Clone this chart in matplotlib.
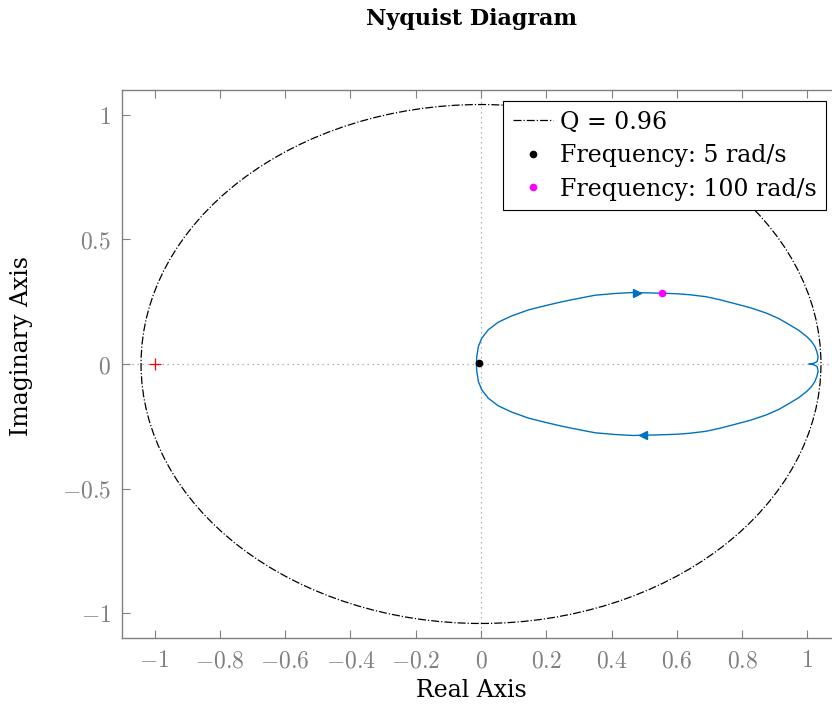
import numpy as np
import matplotlib
matplotlib.use("Agg")
import matplotlib.pyplot as plt
from matplotlib.patches import Circle
from matplotlib.lines import Line2D

plt.rcParams['font.family'] = 'DejaVu Serif'
plt.rcParams['mathtext.fontset'] = 'cm'

# Nyquist curve, upper branch; lower branch is its conjugate
re_upper = [1.006, 1.020, 1.030, 1.033, 1.029, 1.023, 1.013, 0.998, 0.975, 0.946,
            0.913, 0.875, 0.825, 0.773, 0.732, 0.690, 0.640, 0.600, 0.556, 0.466,
            0.410, 0.349, 0.278, 0.242, 0.206, 0.175, 0.145, 0.094, 0.053, 0.022,
            0.002, -0.008, -0.013, -0.014]
im_upper = [0.000, 0.003, 0.010, 0.029, 0.050, 0.070, 0.090, 0.110, 0.134, 0.157,
            0.182, 0.204, 0.226, 0.244, 0.258, 0.270, 0.278, 0.282, 0.284, 0.287,
            0.283, 0.276, 0.258, 0.248, 0.237, 0.227, 0.217, 0.193, 0.168, 0.137,
            0.103, 0.070, 0.029, 0.000]

Q = 0.96
freq_5 = (-0.005, 0.006)
freq_100 = (0.556, 0.284)
arrow_up = (0.477, 0.287)
arrow_down = (0.497, -0.287)
critical = (-1, 0)

xticks = [-1, -0.8, -0.6, -0.4, -0.2, 0, 0.2, 0.4, 0.6, 0.8, 1]
yticks = [-1, -0.5, 0, 0.5, 1]

fig = plt.figure(figsize=(8.32, 7.07), dpi=100)
ax = fig.add_axes([122 / 832, 69 / 707, 718 / 832, 548 / 707])

blue = '#0072BD'
grey = '#808080'

ax.axhline(0, color='#a0a0a0', linestyle=(0, (1, 3)), linewidth=0.9, zorder=1)
ax.axvline(0, color='#a0a0a0', linestyle=(0, (1, 3)), linewidth=0.9, zorder=1)

circ = Circle((0, 0), 1 / Q, fill=False, edgecolor='black', linestyle='-.', linewidth=0.9)
ax.add_patch(circ)

re = np.array(re_upper)
im = np.array(im_upper)
ax.plot(re, im, color=blue, linewidth=1.0)
ax.plot(re, -im, color=blue, linewidth=1.0)
ax.plot(*arrow_up, marker='>', color=blue, markersize=6, linestyle='none')
ax.plot(*arrow_down, marker='<', color=blue, markersize=6, linestyle='none')

ax.plot(*critical, marker='+', color='red', markersize=8, markeredgewidth=0.9)
ax.plot(*freq_5, 'o', color='black', markersize=4.5)
ax.plot(*freq_100, 'o', color='magenta', markersize=4.5)

ax.set_xlim(-1.1, 1.1)
ax.set_ylim(-1.1, 1.1)
ax.set_xticks(xticks)
ax.set_yticks(yticks)
ax.set_xticklabels([r'$%g$' % t for t in xticks])
ax.set_yticklabels([r'$%g$' % t for t in yticks])
ax.tick_params(direction='in', length=6, width=0.8, colors=grey, labelsize=17,
               top=True, right=True, pad=8)
for s in ax.spines.values():
    s.set_color(grey)
    s.set_linewidth(1.0)

ax.set_xlabel('Real Axis', fontsize=17)
ax.set_ylabel('Imaginary Axis', fontsize=17)
ax.xaxis.set_label_coords(0.486, -0.074)
ax.yaxis.set_label_coords(-0.124, 0.533)
fig.text(472 / 832, 1 - 19 / 707, 'Nyquist Diagram', fontsize=16, fontweight='bold',
         ha='center', va='center')

handles = [
    Line2D([], [], color='black', linestyle='-.', linewidth=0.9),
    Line2D([], [], color='black', marker='o', linestyle='none', markersize=4.5),
    Line2D([], [], color='magenta', marker='o', linestyle='none', markersize=4.5),
]
labels = ['Q = 0.96', 'Frequency: 5 rad/s', 'Frequency: 100 rad/s']
leg = ax.legend(handles, labels, loc='upper right', bbox_to_anchor=(0.9805, 0.98),
                borderaxespad=0, fontsize=17, fancybox=False, framealpha=1,
                edgecolor='black', handlelength=1.7, handletextpad=0.3,
                labelspacing=0.45, borderpad=0.4)
leg.get_frame().set_linewidth(0.8)

fig.savefig('out.png', dpi=100)
